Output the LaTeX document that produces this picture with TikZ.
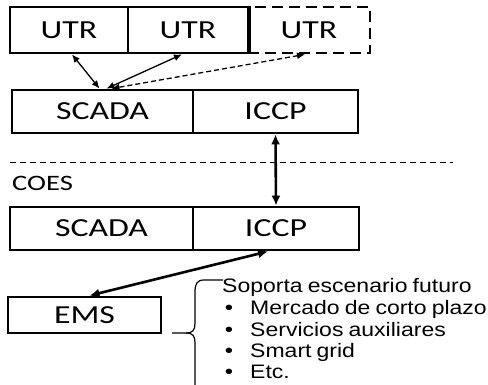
\documentclass[tikz,border=0pt]{standalone}
\usepackage{fontspec}
\newfontfamily\boxfont[FakeStretch=1.3]{Carlito}
\newfontfamily\txtfont[FakeStretch=1.18,WordSpace=0.8]{Liberation Sans}
\usetikzlibrary{arrows.meta}
\tikzset{
  blk/.style={draw, line width=2.8pt, inner sep=0pt, font=\boxfont\fontsize{26}{30}\selectfont},
  dblk/.style={blk, dashed, dash pattern=on 11pt off 6pt},
  thin arr/.style={line width=1.3pt, {Latex[length=8pt,width=7pt]}-{Latex[length=8pt,width=7pt]}},
  thick arr/.style={line width=2.6pt, {Latex[length=10pt,width=9pt]}-{Latex[length=10pt,width=9pt]}},
  itm/.style={anchor=base west, inner sep=0pt, font=\txtfont\fontsize{19.5}{22}\selectfont},
  bul/.style={anchor=base, inner sep=0pt, font=\txtfont\fontsize{20}{22}\selectfont}
}
\begin{document}
\begin{tikzpicture}[x=1pt,y=-1pt]
\useasboundingbox (0,0) rectangle (488,385);
\clip (0,0) rectangle (488,385);
% top row
\node[blk, minimum width=118pt, minimum height=46pt] (utr1) at (69,30) {UTR};
\node[blk, minimum width=120pt, minimum height=46pt] (utr2) at (188,30) {UTR};
\node[dblk, minimum width=122pt, minimum height=46pt] (utr3) at (309,30) {UTR};
\draw[line width=2.8pt] (utr2.north east) -- (utr2.south east);
% SCADA / ICCP upper
\node[blk, minimum width=181pt, minimum height=43pt] (scada1) at (102.5,111.5) {SCADA};
\node[blk, minimum width=165pt, minimum height=43pt] (iccp1) at (275.5,111.5) {ICCP};
% connectors top
\draw[thin arr] ([xshift=3pt]utr1.south) -- ([xshift=-3pt]scada1.north);
\draw[thin arr] ([xshift=-6pt]utr2.south) -- ([xshift=4pt]scada1.north);
\draw[thin arr, dashed, dash pattern=on 5pt off 3pt] ([xshift=-4pt]utr3.south) -- ([xshift=9pt]scada1.north);
% separator
\coordinate (sepL) at (10,163);
\coordinate (sepR) at (453,163);
\draw[line width=1pt, dash pattern=on 6pt off 4pt] (sepL) -- (sepR);
\node[anchor=west, inner sep=0pt, font=\boxfont\fontsize{22}{26}\selectfont] (coes) at (12,183) {COES};
% SCADA / ICCP lower
\node[blk, minimum width=183pt, minimum height=43pt] (scada2) at (101.5,228.5) {SCADA};
\node[blk, minimum width=166pt, minimum height=43pt] (iccp2) at (276,228.5) {ICCP};
\draw[thick arr] (iccp1.south) -- (iccp2.north);
% EMS
\node[blk, minimum width=153pt, minimum height=36pt] (ems) at (84.5,315) {EMS};
\draw[thick arr] ([xshift=-8pt]iccp2.south) -- ([xshift=5pt]ems.north);
% brace
\draw[line width=1.2pt] (223,280) -- (204,280) .. controls (197,280) and (195,284) .. (195,292)
  -- (195,323) .. controls (195,330) and (193,333) .. (186,333) -- (172,333);
\draw[line width=1.2pt] (186,333) .. controls (193,333) and (195,336) .. (195,343) -- (195,390);
% text
\node[itm] (t0) at (222,292) {Soporta escenario futuro};
\node[bul] (b1) at (229,315) {•};
\node[itm] (t1) at (250,315) {Mercado de corto plazo};
\node[bul] (b2) at (229,337) {•};
\node[itm] (t2) at (250,337) {Servicios auxiliares};
\node[bul] (b3) at (229,357) {•};
\node[itm] (t3) at (250,357) {Smart grid};
\node[bul] (b4) at (229,378) {•};
\node[itm] (t4) at (250,378) {Etc.};
\end{tikzpicture}
\end{document}
